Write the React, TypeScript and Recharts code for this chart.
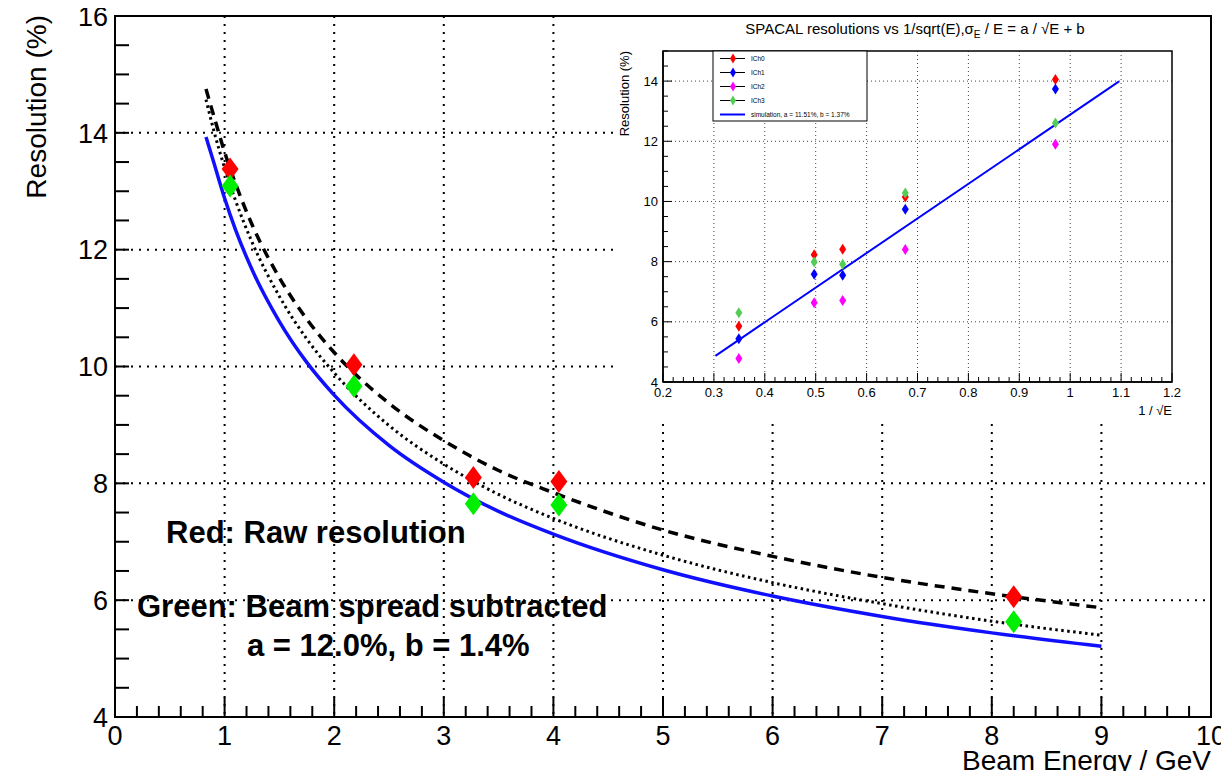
import React from 'react';
import { ComposedChart, XAxis, YAxis, CartesianGrid, Line, Scatter, ReferenceArea } from 'recharts';

// main plot: measured points
const beamEnergy = [1.05, 2.18, 3.27, 4.05, 8.2];
const rawRes = [13.38, 10.03, 8.1, 8.03, 6.06];
const subtractedRes = [13.09, 9.66, 7.65, 7.63, 5.63];

// main plot: fitted curves
const curveE = [0.83, 0.9, 1, 1.1, 1.25, 1.5, 1.75, 2, 2.5, 3, 3.5, 4, 5, 6, 7, 8, 9];
const simCurve = [13.93, 13.5, 12.88, 12.34, 11.66, 10.77, 10.07, 9.51, 8.65, 8.02, 7.52, 7.13, 6.52, 6.07, 5.72, 5.44, 5.21];
const subCurve = [14.57, 14.05, 13.4, 12.84, 12.13, 11.2, 10.47, 9.89, 8.99, 8.33, 7.81, 7.4, 6.77, 6.3, 5.94, 5.64, 5.4];
const rawCurve = [14.75, 14.3, 13.67, 13.13, 12.43, 11.52, 10.81, 10.24, 9.37, 8.73, 8.22, 7.84, 7.2, 6.75, 6.39, 6.11, 5.87];

// inset: resolution vs 1/sqrt(E)
const invSqrtE = [0.349, 0.497, 0.553, 0.676, 0.971];
const ch0 = [5.85, 8.23, 8.41, 10.15, 14.05];
const ch1 = [5.44, 7.58, 7.55, 9.74, 13.74];
const ch2 = [4.78, 6.63, 6.71, 8.4, 11.9];
const ch3 = [6.3, 7.99, 7.91, 10.28, 12.61];
const simX = [0.303, 1.096];
const simY = [4.87, 13.99];

const insetNames = ['ICh0', 'ICh1', 'ICh2', 'ICh3'];
const insetColors = ['#ff0000', '#0000ff', '#ff00ff', '#55cc55'];
const simName = 'simulation, a = 11.51%, b = 1.37%';

const mainXTicks = Array.from({ length: 51 }, (_, i) => Math.round(i * 2) / 10);
const mainYTicks = Array.from({ length: 25 }, (_, i) => 4 + i * 0.5);
const insetXTicks = Array.from({ length: 51 }, (_, i) => 0.2 + Math.round(i * 2) / 100);
const insetYTicks = Array.from({ length: 23 }, (_, i) => 4 + i * 0.5);

const FONT = '"Liberation Sans", Arial, Helvetica, sans-serif';

const toPts = (xs: number[], ys: number[]) => xs.map((x, i) => ({ x, y: ys[i] }));

const diamond = (w: number, h: number, color: string) => (p: any) => {
  const { cx, cy } = p;
  if (cx == null || cy == null) return <g />;
  return (
    <polygon
      points={`${cx},${cy - h / 2} ${cx + w / 2},${cy} ${cx},${cy + h / 2} ${cx - w / 2},${cy}`}
      fill={color}
    />
  );
};

const MainXTick = ({ x, y, payload }: any) => {
  const v = payload.value;
  const major = Math.abs(v - Math.round(v)) < 1e-6;
  return (
    <g>
      <line x1={x} x2={x} y1={y} y2={y - (major ? 20 : 11)} stroke="#000" strokeWidth={2} />
      {major && (
        <text x={x} y={y + 28} textAnchor="middle" fontSize={27} fontFamily={FONT} fill="#000">
          {Math.round(v)}
        </text>
      )}
    </g>
  );
};

const MainYTick = ({ x, y, payload }: any) => {
  const v = payload.value;
  const major = Math.abs(v / 2 - Math.round(v / 2)) < 1e-6;
  return (
    <g>
      <line x1={x} x2={x + 14} y1={y} y2={y} stroke="#000" strokeWidth={2} />
      {major && (
        <text x={x - 7} y={y} dy="0.36em" textAnchor="end" fontSize={27} fontFamily={FONT} fill="#000">
          {v}
        </text>
      )}
    </g>
  );
};

const InsetXTick = ({ x, y, payload }: any) => {
  const v = payload.value;
  const major = Math.abs(v * 10 - Math.round(v * 10)) < 1e-6;
  return (
    <g>
      <line x1={x} x2={x} y1={y} y2={y - (major ? 9 : 5)} stroke="#000" strokeWidth={1} />
      {major && (
        <text x={x} y={y + 15} textAnchor="middle" fontSize={13} fontFamily={FONT} fill="#000">
          {String(Math.round(v * 10) / 10)}
        </text>
      )}
    </g>
  );
};

const InsetYTick = ({ x, y, payload }: any) => {
  const v = payload.value;
  const major = Math.abs(v / 2 - Math.round(v / 2)) < 1e-6;
  return (
    <g>
      <line x1={x} x2={x + (major ? 9 : 5)} y1={y} y2={y} stroke="#000" strokeWidth={1} />
      {major && (
        <text x={x - 5} y={y} dy="0.36em" textAnchor="end" fontSize={13} fontFamily={FONT} fill="#000">
          {v}
        </text>
      )}
    </g>
  );
};

const Inset = () => (
  <div style={{ position: 'absolute', left: 617, top: 17, width: 593, height: 404, background: '#fff' }}>
    <ComposedChart width={593} height={404} margin={{ top: 34, right: 38, bottom: 0, left: 0 }}>
      <CartesianGrid
        stroke="#444"
        strokeWidth={1}
        strokeDasharray="1 3"
        verticalValues={[0.3, 0.4, 0.5, 0.6, 0.7, 0.8, 0.9, 1.0, 1.1]}
        horizontalValues={[6, 8, 10, 12, 14]}
      />
      <XAxis
        type="number"
        dataKey="x"
        domain={[0.2, 1.2]}
        ticks={insetXTicks}
        interval={0}
        tickSize={0}
        tickMargin={0}
        height={39}
        tickLine={false}
        axisLine={{ stroke: '#000', strokeWidth: 1.5 }}
        tick={InsetXTick}
        allowDataOverflow
        label={(p: any) => (
          <text x={p.viewBox.x + p.viewBox.width} y={p.viewBox.y + 33} textAnchor="end" fontSize={13} fontFamily={FONT}>
            1 / √E
          </text>
        )}
      />
      <YAxis
        type="number"
        dataKey="y"
        domain={[4, 15]}
        ticks={insetYTicks}
        interval={0}
        tickSize={0}
        tickMargin={0}
        width={46}
        tickLine={false}
        axisLine={{ stroke: '#000', strokeWidth: 1.5 }}
        tick={InsetYTick}
        allowDataOverflow
        label={(p: any) => (
          <text
            transform={`translate(${p.viewBox.x + 12}, ${p.viewBox.y}) rotate(-90)`}
            textAnchor="end"
            fontSize={13}
            fontFamily={FONT}
          >
            Resolution (%)
          </text>
        )}
      />
      <ReferenceArea x1={0.2} x2={1.2} y1={4} y2={15} fill="none" stroke="#000" strokeWidth={1.5} />
      <Line data={toPts(simX, simY)} dataKey="y" stroke="#0000ff" strokeWidth={2} dot={false} isAnimationActive={false} />
      {[ch0, ch1, ch2, ch3].map((s, i) => (
        <Scatter
          key={insetNames[i]}
          data={toPts(invSqrtE, s)}
          dataKey="y"
          shape={diamond(7, 11, insetColors[i])}
          isAnimationActive={false}
        />
      ))}
    </ComposedChart>
    <svg width={593} height={404} style={{ position: 'absolute', left: 0, top: 0, pointerEvents: 'none' }}>
      <text x={298} y={17} textAnchor="middle" fontSize={15} fontFamily={FONT} fill="#000">
        SPACAL resolutions vs 1/sqrt(E),σ
        <tspan dy={4} fontSize={10}>E</tspan>
        <tspan dy={-4}> / E = a / √E + b</tspan>
      </text>
      <g transform="translate(96,34)">
        <rect x={0} y={0} width={154} height={70} fill="#fff" stroke="#000" strokeWidth={1} />
        {insetNames.map((n, i) => {
          const yy = 7.5 + i * 14;
          return (
            <g key={n}>
              <line x1={7} x2={32} y1={yy} y2={yy} stroke="#000" strokeWidth={1} />
              <polygon points={`20,${yy - 5} 23,${yy} 20,${yy + 5} 17,${yy}`} fill={insetColors[i]} />
              <text x={38} y={yy} dy="0.35em" fontSize={6.5} fontFamily={FONT}>
                {n}
              </text>
            </g>
          );
        })}
        <line x1={7} x2={32} y1={63.5} y2={63.5} stroke="#0000ff" strokeWidth={2} />
        <text x={38} y={63.5} dy="0.35em" fontSize={6.5} fontFamily={FONT}>
          {simName}
        </text>
      </g>
    </svg>
  </div>
);

export default function App() {
  return (
    <div style={{ position: 'relative', width: 1229, height: 779, margin: -8, background: '#fff' }}>
      <ComposedChart width={1229} height={779} margin={{ top: 16, right: 18, bottom: 22, left: 55 }}>
        <CartesianGrid
          stroke="#000"
          strokeWidth={2}
          strokeDasharray="2 6"
          verticalValues={[1, 2, 3, 4, 5, 6, 7, 8, 9]}
          horizontalValues={[6, 8, 10, 12, 14]}
        />
        <XAxis
          type="number"
          dataKey="x"
          domain={[0, 10]}
          ticks={mainXTicks}
          interval={0}
          tickSize={0}
          tickMargin={0}
          height={40}
          tickLine={false}
          axisLine={{ stroke: '#000', strokeWidth: 2 }}
          tick={MainXTick}
          allowDataOverflow
          label={(p: any) => (
            <text x={p.viewBox.x + p.viewBox.width} y={770} textAnchor="end" fontSize={28} fontFamily={FONT}>
              Beam Energy / GeV
            </text>
          )}
        />
        <YAxis
          type="number"
          dataKey="y"
          domain={[4, 16]}
          ticks={mainYTicks}
          interval={0}
          tickSize={0}
          tickMargin={0}
          width={60}
          tickLine={false}
          axisLine={{ stroke: '#000', strokeWidth: 2 }}
          tick={MainYTick}
          allowDataOverflow
          label={(p: any) => (
            <text
              transform={`translate(46, ${p.viewBox.y - 1}) rotate(-90)`}
              textAnchor="end"
              fontSize={28}
              fontFamily={FONT}
            >
              Resolution (%)
            </text>
          )}
        />
        <ReferenceArea x1={0} x2={10} y1={4} y2={16} fill="none" stroke="#000" strokeWidth={2} />
        <Scatter data={toPts(beamEnergy, rawRes)} dataKey="y" shape={diamond(17, 23, '#ff0000')} isAnimationActive={false} />
        <Scatter data={toPts(beamEnergy, subtractedRes)} dataKey="y" shape={diamond(17, 23, '#00ee00')} isAnimationActive={false} />
        <Line data={toPts(curveE, simCurve)} dataKey="y" type="monotone" stroke="#1010ff" strokeWidth={3.5} dot={false} isAnimationActive={false} />
        <Line data={toPts(curveE, subCurve)} dataKey="y" type="monotone" stroke="#000" strokeWidth={3} strokeDasharray="2.5 3.5" dot={false} isAnimationActive={false} />
        <Line data={toPts(curveE, rawCurve)} dataKey="y" type="monotone" stroke="#000" strokeWidth={3.5} strokeDasharray="10 7" dot={false} isAnimationActive={false} />
      </ComposedChart>
      <svg width={1229} height={779} style={{ position: 'absolute', left: 0, top: 0, pointerEvents: 'none' }}>
        <g fontFamily={FONT} fontWeight="bold" fontSize={31} fill="#000">
          <text x={166} y={543}>Red: Raw resolution</text>
          <text x={137} y={617}>Green: Beam spread subtracted</text>
          <text x={247} y={656}>a = 12.0%, b = 1.4%</text>
        </g>
      </svg>
      <Inset />
    </div>
  );
}
